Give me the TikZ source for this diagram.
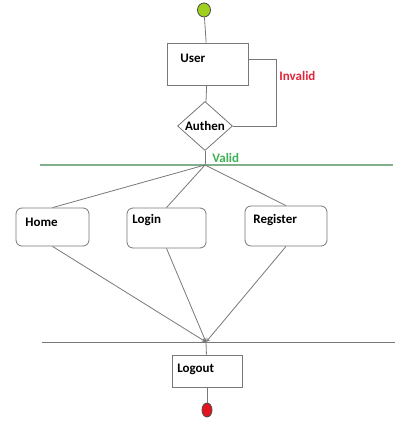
\documentclass[tikz,border=0pt]{standalone}
\usepackage{fontspec}
\setmainfont{Carlito}
\usepackage{tikz}
\usetikzlibrary{arrows}
\usetikzlibrary{shapes}
\usetikzlibrary{positioning}
\definecolor{startgreen}{RGB}{160,208,30}
\definecolor{stopred}{RGB}{226,20,30}
\definecolor{invalidred}{RGB}{226,36,60}
\definecolor{validgreen}{RGB}{60,178,84}
\definecolor{barline}{RGB}{130,175,140}
\definecolor{linegray}{RGB}{120,120,120}
\tikzset{basic/.style={draw=linegray,line width=0.8pt,inner sep=0pt}}
\tikzset{boxtext/.style={anchor=west,inner sep=0pt,font=\fontsize{13}{15}\selectfont\bfseries}}
\begin{document}
\begin{tikzpicture}[
		x = 1pt, y = -1pt, % pixel grid
		> = stealth, % arrow head style
		line width = 0.8pt, % line style
		every edge/.style = {draw, linegray, line width=0.8pt}
		]
		
		\tikzstyle{block}=[basic, rectangle, fill=white]
		\tikzstyle{roundblock}=[basic, rectangle, rounded corners=6pt, fill=white]
		\tikzstyle{dot}=[basic, ellipse, draw=black!70]
		
		\useasboundingbox (0,0) rectangle (400,427);
		
		\node[dot, fill=startgreen, minimum width=13pt, minimum height=14pt] (start) at (204,10) {};
		\node[block, minimum width=81pt, minimum height=42pt] (user) at (207.5,64) {};
		\node[basic, diamond, minimum width=55pt, minimum height=45pt, font=\fontsize{13}{15}\selectfont\bfseries] (authen) at (205,126) {Authen};
		\coordinate (loop) at (276,126);
		\coordinate (valid) at (205,165);
		\coordinate (gl) at (40,165);
		\coordinate (gr) at (393,165);
		
		\node[roundblock, minimum width=73pt, minimum height=38pt] (home) at (52.5,227) {};
		\node[roundblock, minimum width=79pt, minimum height=40pt] (login) at (166.5,228) {};
		\node[roundblock, minimum width=82pt, minimum height=40pt] (register) at (286,226) {};
		
		\coordinate (merge) at (206,342);
		\coordinate (bl) at (42,342);
		\coordinate (br) at (395,342);
		\node[block, minimum width=70pt, minimum height=32pt] (logout) at (207,371) {};
		\node[dot, fill=stopred, minimum width=10pt, minimum height=14pt] (stop) at (207,410) {};
		
		% Texts
		\node[boxtext] (usertext) at (180,58) {User};
		\node[boxtext] (hometext) at (25,222) {Home};
		\node[boxtext] (logintext) at (132,220) {Login};
		\node[boxtext] (registertext) at (253,220) {Register};
		\node[boxtext] (logouttext) at (177,369) {Logout};
		\node[boxtext, text=invalidred] (invalid) at (279,76) {Invalid};
		\node[boxtext, text=validgreen] (validtext) at (212,158) {Valid};
		
		% Top
		\path (start) edge (user);
		\path (user) edge (authen);
		\draw[linegray] ([yshift=5pt]user.east) -| (loop) -- (authen.east);
		\path (authen) edge (valid);
		\draw[barline, line width=1.5pt] (gl) -- (gr);
		
		% Split
		\path (valid) edge (home.north);
		\path (valid) edge (login.north);
		\path (valid) edge (register.north);
		
		% Join
		\draw[linegray] (bl) -- (br);
		\path[->] (home.south) edge (merge);
		\path[->] (login.south) edge (merge);
		\path[->] (register.south) edge (merge);
		\path (merge) edge (logout);
		\path (logout) edge (stop);
		\end{tikzpicture}
\end{document}
